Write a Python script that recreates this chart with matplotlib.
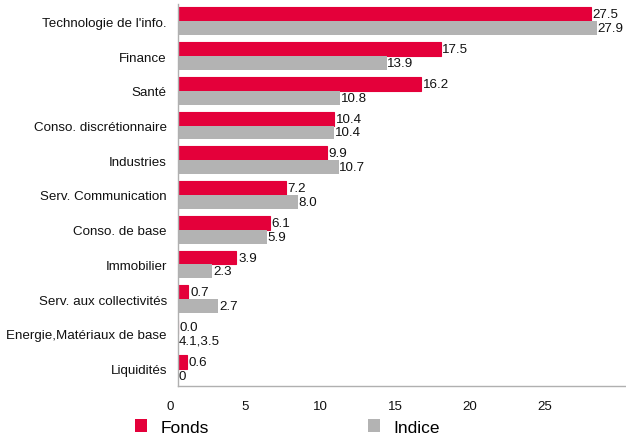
import matplotlib
matplotlib.use("Agg")
import matplotlib.pyplot as plt
import matplotlib.transforms as mtransforms
from matplotlib.patches import Patch
import numpy as np

plt.rcParams['font.family'] = ['Liberation Sans', 'DejaVu Sans']

categories = ["Technologie de l'info.", "Finance", "Santé", "Conso. discrétionnaire",
              "Industries", "Serv. Communication", "Conso. de base", "Immobilier",
              "Serv. aux collectivités", "Energie,Matériaux de base", "Liquidités"]
fonds = [27.5, 17.5, 16.2, 10.4, 9.9, 7.2, 6.1, 3.9, 0.7, 0.0, 0.6]
indice = [27.9, 13.9, 10.8, 10.4, 10.7, 8.0, 5.9, 2.3, 2.7, 0.0, 0.0]
fonds_labels = ["27.5", "17.5", "16.2", "10.4", "9.9", "7.2", "6.1", "3.9", "0.7", "0.0", "0.6"]
indice_labels = ["27.9", "13.9", "10.8", "10.4", "10.7", "8.0", "5.9", "2.3", "2.7", "4.1,3.5", "0"]
xticks = [0, 5, 10, 15, 20, 25]

RED = "#E4003A"
GRAY = "#B3B3B3"
TXT = "#111111"
FS = 9.6

fig = plt.figure(figsize=(6.26, 4.39), dpi=100)
ax = fig.add_axes([178/626, 1-387/439, 1-178/626, (387-5)/439])

y = np.arange(len(categories))
h = 0.4
ax.barh(y - h/2, fonds, height=h, color=RED, edgecolor=RED, linewidth=0.8)
ax.barh(y + h/2, indice, height=h, color=GRAY, linewidth=0)

for i in range(len(categories)):
    ax.annotate(fonds_labels[i], (fonds[i], y[i] - h/2), xytext=(1.2, 0), textcoords='offset points',
                va='center', ha='left', fontsize=FS, color=TXT)
    ax.annotate(indice_labels[i], (indice[i], y[i] + h/2), xytext=(0.5, 0), textcoords='offset points',
                va='center', ha='left', fontsize=FS, color=TXT)

ax.set_ylim(len(categories) - 0.5, -0.5)
ax.set_xlim(0, 448/15)
ax.set_yticks(y)
ax.set_yticklabels(categories, fontsize=FS, color=TXT)
ax.set_xticks(xticks)
ax.set_xticklabels([str(t) for t in xticks], fontsize=FS, color=TXT)
ax.tick_params(axis='both', length=0)
ax.tick_params(axis='y', pad=8)
ax.tick_params(axis='x', pad=10)
offset = mtransforms.ScaledTranslation(-8/100, 0, fig.dpi_scale_trans)
for lab in ax.get_xticklabels():
    lab.set_transform(lab.get_transform() + offset)

for s in ['top', 'right']:
    ax.spines[s].set_visible(False)
for s in ['left', 'bottom']:
    ax.spines[s].set_color('#B0B0B0')
    ax.spines[s].set_linewidth(1.0)

handles = [Patch(facecolor=RED, edgecolor='none', label='Fonds'),
           Patch(facecolor=GRAY, edgecolor='none', label='Indice')]
fig.legend(handles=handles, loc='center left', bbox_to_anchor=(135/626, 1-428/439),
           ncol=2, frameon=False, fontsize=12.5, handlelength=0.7, handleheight=0.7,
           handletextpad=0.75, columnspacing=9.2, borderaxespad=0, borderpad=0)

fig.savefig("out.png", dpi=100)
